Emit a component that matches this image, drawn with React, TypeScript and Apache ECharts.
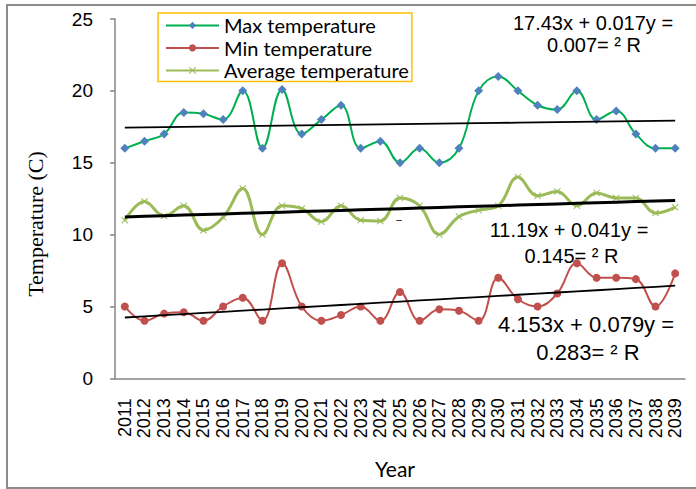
import { useEffect, useRef } from "react";
import * as echarts from "echarts";

// Years on the category axis
const years = [
  "2011", "2012", "2013", "2014", "2015", "2016", "2017", "2018", "2019", "2020",
  "2021", "2022", "2023", "2024", "2025", "2026", "2027", "2028", "2029", "2030",
  "2031", "2032", "2033", "2034", "2035", "2036", "2037", "2038", "2039",
];

// Temperatures (C)
const maxTemp = [
  16, 16.5, 17, 18.5, 18.4, 18, 20, 16, 20.1, 17,
  18, 19, 16, 16.5, 15, 16, 15, 16, 20, 21,
  20, 19, 18.7, 20, 18, 18.6, 17, 16, 16,
];
const minTemp = [
  5, 4, 4.5, 4.6, 4, 5, 5.6, 4, 8, 5,
  4, 4.4, 5, 4, 6, 4, 4.8, 4.7, 4, 7,
  5.5, 5, 5.9, 8, 7, 7, 6.9, 5, 7.3,
];
const avgTemp = [
  11, 12.3, 11.3, 12, 10.3, 11.2, 13.2, 10, 12, 11.8,
  10.9, 12, 11, 10.95, 12.55, 12, 10, 11.25, 11.7, 12,
  14, 12.7, 13, 12, 12.9, 12.55, 12.55, 11.5, 11.9,
];

// Linear trend coefficients [intercept, slope] and R² as printed on the chart
const maxTrend = [17.43, 0.017];
const minTrend = [4.153, 0.079];
const avgTrend = [11.19, 0.041];
const maxR2 = "0.007";
const minR2 = "0.283";
const avgR2 = "0.145";

const yTicks = { min: 0, max: 25, interval: 5 };

const trendValues = (coef: number[]) => years.map((_, i) => coef[0] + coef[1] * (i + 1));
const eqLine = (coef: number[]) => `${coef[0]}x + ${coef[1]}y =`;

const X_MARK = "path://M0,1L1,0L5,4L9,0L10,1L6,5L10,9L9,10L5,6L1,10L0,9L4,5Z";
const SANS = "Liberation Sans";
const AXIS_GREY = "#868686";

function txt(text: string, x: number, y: number, size: number, family = SANS, extra: any = {}) {
  return {
    type: "text",
    x,
    y,
    silent: true,
    ...extra,
    style: {
      text,
      fill: "#000",
      fontSize: size,
      fontFamily: family,
      align: "center",
      verticalAlign: "middle",
      textAlign: "center",
      textVerticalAlign: "middle",
    },
  };
}

export default function App() {
  const ref = useRef<HTMLDivElement>(null);

  useEffect(() => {
    const chart = echarts.init(ref.current!, null, { renderer: "svg" });
    chart.setOption({
      animation: false,
      backgroundColor: "#fff",
      grid: { left: 115, top: 19, width: 570, height: 359.3 },
      legend: {
        data: ["Max temperature", "Min temperature", "Average temperature"],
        orient: "vertical",
        left: 158,
        top: 13,
        itemWidth: 53,
        itemHeight: 9,
        itemGap: 2.5,
        padding: [2.4, 3, 1, 7],
        borderColor: "#FFC000",
        borderWidth: 1.5,
        selectedMode: false,
        textStyle: { fontFamily: "Lato", fontSize: 20, color: "#000", lineHeight: 20 },
      },
      xAxis: {
        type: "category",
        data: years,
        boundaryGap: true,
        axisLine: { lineStyle: { color: AXIS_GREY, width: 1.5 } },
        axisTick: { interval: 1, length: 6, lineStyle: { color: AXIS_GREY, width: 1.5 } },
        axisLabel: {
          interval: 0,
          rotate: 90,
          margin: 20,
          fontSize: 18,
          fontFamily: SANS,
          color: "#000",
        },
        splitLine: { show: false },
      },
      yAxis: {
        type: "value",
        min: yTicks.min,
        max: yTicks.max,
        interval: yTicks.interval,
        axisLine: { show: true, lineStyle: { color: AXIS_GREY, width: 1.5 } },
        axisTick: { show: true, length: 5, lineStyle: { color: AXIS_GREY, width: 1.5 } },
        axisLabel: { margin: 22, fontSize: 19, fontFamily: SANS, color: "#000" },
        splitLine: { show: false },
      },
      series: [
        {
          name: "Max temperature",
          type: "line",
          data: maxTemp,
          smooth: 0.4,
          symbol: "diamond",
          symbolSize: 9,
          itemStyle: { color: "#4F81BD" },
          lineStyle: { color: "#00B050", width: 2 },
          z: 3,
        },
        {
          name: "Min temperature",
          type: "line",
          data: minTemp,
          smooth: 0.4,
          symbol: "circle",
          symbolSize: 8,
          itemStyle: { color: "#C0504D" },
          lineStyle: { color: "#C0504D", width: 2 },
          z: 3,
        },
        {
          name: "Average temperature",
          type: "line",
          data: avgTemp,
          smooth: 0.4,
          symbol: X_MARK,
          symbolSize: 7,
          itemStyle: { color: "#9BBB59" },
          lineStyle: { color: "#9BBB59", width: 3 },
          z: 3,
        },
        {
          name: "Max trend",
          type: "line",
          data: trendValues(maxTrend),
          symbol: "none",
          silent: true,
          lineStyle: { color: "#000", width: 1.8 },
          z: 4,
        },
        {
          name: "Avg trend",
          type: "line",
          data: trendValues(avgTrend),
          symbol: "none",
          silent: true,
          lineStyle: { color: "#000", width: 3 },
          z: 4,
        },
        {
          name: "Min trend",
          type: "line",
          data: trendValues(minTrend),
          symbol: "none",
          silent: true,
          lineStyle: { color: "#000", width: 1.8 },
          z: 4,
        },
      ],
      graphic: [
        {
          type: "rect",
          silent: true,
          z: -1,
          shape: { x: 7, y: 5, width: 692, height: 483 },
          style: { fill: "none", stroke: "#8c8c8c", lineWidth: 2 },
        },
        txt(eqLine(maxTrend), 593, 22.5, 20),
        txt(`${maxR2}= ² R`, 594, 45, 20),
        txt(eqLine(avgTrend), 569, 230, 20),
        txt(`${avgR2}= ² R`, 571.5, 255.5, 20),
        txt(eqLine(minTrend), 586, 324.5, 22),
        txt(`${minR2}= ² R`, 588, 352, 22),
        txt("–", 399, 219, 10),
        txt("Temperature (C)", 35, 224, 22, "Liberation Serif", { rotation: Math.PI / 2 }),
        txt("Year", 395, 468, 21, "Lato"),
      ],
    });
    return () => chart.dispose();
  }, []);

  return (
    <div
      ref={ref}
      style={{ position: "fixed", left: 0, top: 0, width: 696, height: 489, background: "#fff" }}
    />
  );
}
